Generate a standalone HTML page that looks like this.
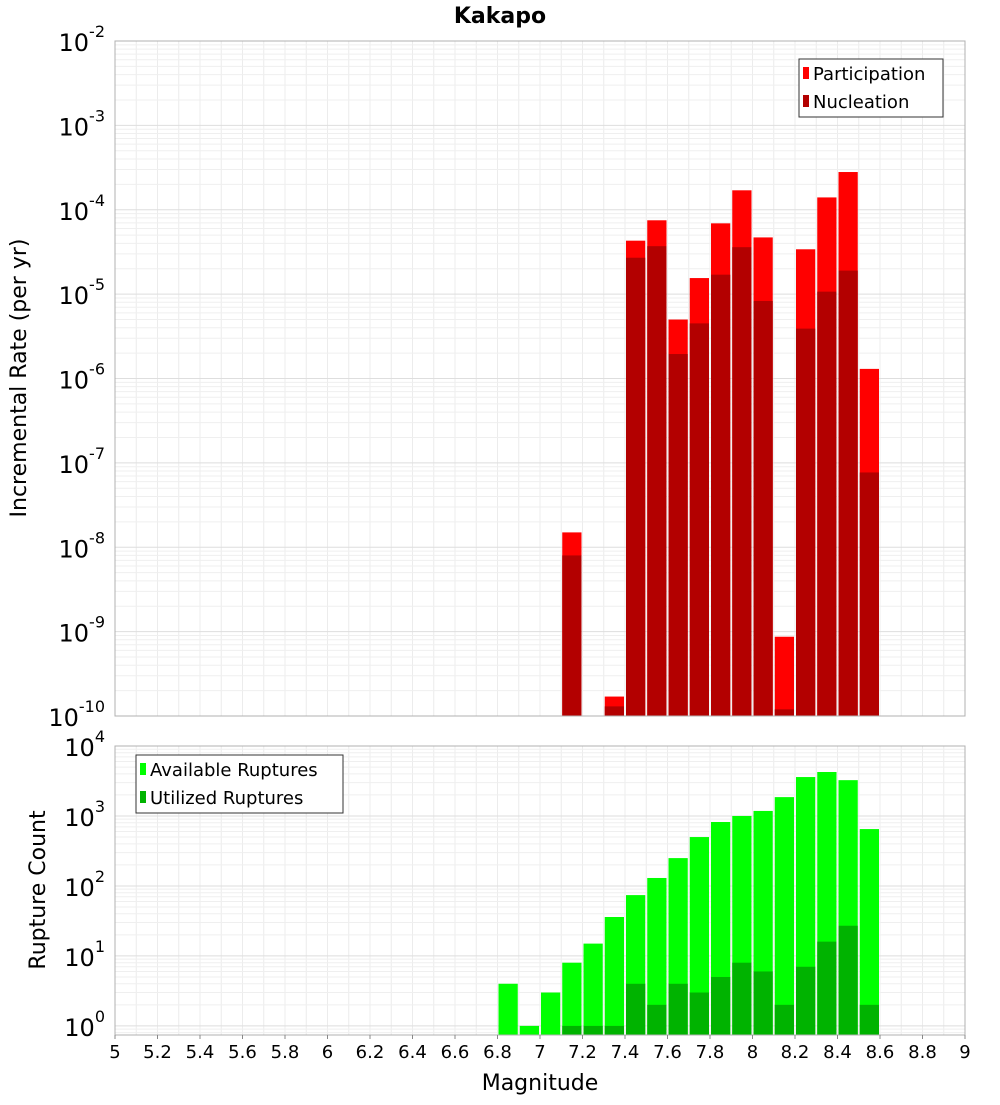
<!DOCTYPE html>
<html><head><meta charset="utf-8"><style>
body{margin:0;background:#fff;}
svg text{font-family:"DejaVu Sans","Liberation Sans",sans-serif;}
</style></head><body>
<svg id="chart" width="1000" height="1100" xmlns="http://www.w3.org/2000/svg">
<g id="topPanel"></g>
<g id="botPanel"></g>
</svg>
<script>
const binCenters=[6.85,6.95,7.05,7.15,7.25,7.35,7.45,7.55,7.65,7.75,7.85,7.95,8.05,8.15,8.25,8.35,8.45,8.55];
const participation=[0,0,0,1.5e-8,0,1.7e-10,4.3e-5,7.5e-5,5e-6,1.55e-5,6.9e-5,1.7e-4,4.7e-5,8.7e-10,3.4e-5,1.4e-4,2.8e-4,1.3e-6];
const nucleation=[0,0,0,8e-9,0,1.3e-10,2.7e-5,3.7e-5,1.95e-6,4.5e-6,1.7e-5,3.6e-5,8.3e-6,1.2e-10,3.9e-6,1.07e-5,1.9e-5,7.7e-8];
const available=[4,1,3,8,15,36,74,130,250,500,820,1000,1180,1860,3600,4250,3250,650];
const utilized=[0,0,0,1,1,1,4,2,4,3,5,8,6,2,7,16,27,2];
const xTicks=[5,5.2,5.4,5.6,5.8,6,6.2,6.4,6.6,6.8,7,7.2,7.4,7.6,7.8,8,8.2,8.4,8.6,8.8,9];
const topExps=[-2,-3,-4,-5,-6,-7,-8,-9,-10];
const botExps=[4,3,2,1,0];

const NS="http://www.w3.org/2000/svg";
const X0=115,X1=965;
const xs=v=>X0+(v-5)/4*(X1-X0);
const T0=41,T1=716, yTop=v=>T0+(-2-Math.log10(v))/8*(T1-T0);
const B0=746,B1=1035,BMIN=-0.13,BMAX=4.0, yBot=v=>B0+(BMAX-Math.log10(v))/(BMAX-BMIN)*(B1-B0);
function mk(p,tag,at,txt){const e=document.createElementNS(NS,tag);for(const k in at)e.setAttribute(k,at[k]);if(txt!=null)e.textContent=txt;p.appendChild(e);return e;}
const svgEl=document.getElementById('chart');
const topG=document.getElementById('topPanel'),botG=document.getElementById('botPanel');

function grid(g,y0,y1,emin,emax,yf){
  mk(g,'rect',{x:X0,y:y0,width:X1-X0,height:y1-y0,fill:'#fff'});
  for(let k=0;k<=40;k++){const x=xs(5+k*0.1);mk(g,'line',{x1:x,x2:x,y1:y0,y2:y1,stroke:'#ececec','stroke-width':1});}
  for(let e=Math.floor(emin);e<emax;e++){for(let m=1;m<10;m++){const v=m*Math.pow(10,e);const y=yf(v);if(y<y0-0.5||y>y1+0.5)continue;mk(g,'line',{x1:X0,x2:X1,y1:y,y2:y,stroke:m==1?'#dedede':'#efefef','stroke-width':1});}}
}
grid(topG,T0,T1,-10,-2,yTop);
grid(botG,B0,B1,-1,4,yBot);

function bars(g,vals,fn,y1,col,name){
  vals.forEach((v,i)=>{if(!(v>0))return;const c=binCenters[i];const xl=xs(c-0.05)+1,xr=xs(c+0.05)-1;const y=Math.max(fn(v),0);
    const r=mk(g,'rect',{x:xl,y:y,width:xr-xl,height:Math.max(y1-y,0),fill:col});
    
    });
}
bars(topG,participation,yTop,T1,'#ff0000','participation');
bars(topG,nucleation,yTop,T1,'#b30000','nucleation');
bars(botG,available,yBot,B1,'#00ff00','available');
bars(botG,utilized,yBot,B1,'#00b300','utilized');

mk(topG,'rect',{x:X0,y:T0,width:X1-X0,height:T1-T0,fill:'none',stroke:'#b0b0b0'});
mk(botG,'rect',{x:X0,y:B0,width:X1-X0,height:B1-B0,fill:'none',stroke:'#b0b0b0'});

function ylabels(g,exps,fn){exps.forEach(e=>{const y=fn(Math.pow(10,e));
  const t=mk(g,'text',{x:105,y:y+10,'text-anchor':'end','font-size':24});
  
  
  mk(t,'tspan',{},'10');mk(t,'tspan',{dy:-14,'font-size':16},String(e));});}
ylabels(topG,topExps,yTop);
ylabels(botG,botExps,yBot);

xTicks.forEach(v=>{const t=mk(botG,'text',{x:xs(v),y:1058,'text-anchor':'middle','font-size':18},String(Math.round(v*10)/10));
  
  
  mk(botG,'line',{x1:xs(v),x2:xs(v),y1:B1,y2:B1+4,stroke:'#888'});});

let tt;
tt=mk(svgEl,'text',{x:500,y:23,'text-anchor':'middle','font-size':22,'font-weight':'bold'},'Kakapo');


tt=mk(svgEl,'text',{x:540,y:1090,'text-anchor':'middle','font-size':22},'Magnitude');


tt=mk(svgEl,'text',{x:26,y:378,'text-anchor':'middle','font-size':22,transform:'rotate(-90 26 378)'},'Incremental Rate (per yr)');


tt=mk(svgEl,'text',{x:45,y:890,'text-anchor':'middle','font-size':22,transform:'rotate(-90 45 890)'},'Rupture Count');



function legend(x,y,w,items,name){const g=mk(svgEl,'g',{});
  
  
  mk(g,'rect',{x:x,y:y,width:w,height:58,fill:'#fff',stroke:'#333'});
  items.forEach((it,i)=>{mk(g,'rect',{x:x+4,y:y+8+i*28,width:6,height:12,fill:it[1]});
    const le=mk(g,'text',{x:x+14,y:y+21+i*28,'font-size':18},it[0]);
    
    });}
legend(799,59,144,[['Participation','#ff0000'],['Nucleation','#b30000']],'rate-legend');
legend(136,755,207,[['Available Ruptures','#00ff00'],['Utilized Ruptures','#00b300']],'count-legend');
</script>
</body></html>
